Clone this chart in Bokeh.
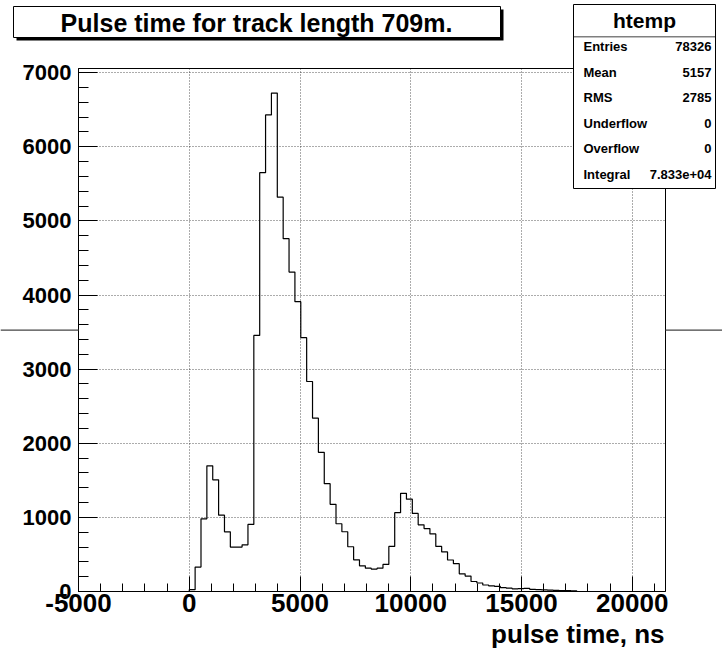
import numpy as np
from bokeh.plotting import figure
from bokeh.models import (Range1d, SingleIntervalTicker, BoxAnnotation, Label,
                          NumeralTickFormatter)
from bokeh.embed import file_html
from bokeh.resources import INLINE

# ---------------- data ----------------
title_text = "Pulse time for track length 709m."
x_title = "pulse time, ns"
hist_name = "htemp"
x_axis_min = -5000
x_axis_max = 21500
y_axis_max = 7056
bin_start = 0.0
bin_width = 265.0
counts = [25, 330, 980, 1695, 1507, 1030, 805, 600, 600, 630,
          905, 3455, 5650, 6430, 6725, 5320, 4760, 4310, 3910, 3425,
          2833, 2338, 1878, 1455, 1176, 914, 806, 604, 428, 347,
          315, 302, 315, 365, 608, 1063, 1324, 1246, 1054, 900,
          849, 777, 608, 534, 425, 376, 239, 208, 135, 115,
          88, 76, 68, 52, 45, 36, 40, 42, 30, 26,
          22, 18, 15, 13, 12, 10]
stats_names = ["Entries", "Mean", "RMS", "Underflow", "Overflow", "Integral"]
stats_values = ["78326", "5157", "2785", "0", "0", "7.833e+04"]

# ---------------- layout (pixels) ----------------
W, H = 722, 648
FL, FR, FT, FB = 78, 665, 68, 591   # plot box edges on the canvas

sx = (x_axis_max - x_axis_min) / (FR - FL)
sy = y_axis_max / (FB - FT)
xr = Range1d(x_axis_min - FL * sx, x_axis_max + (W - FR) * sx)
yr = Range1d(0 - (H - FB) * sy, y_axis_max + FT * sy)

p = figure(width=W, height=H, x_range=xr, y_range=yr,
           output_backend="svg", toolbar_location=None,
           min_border=0)
p.background_fill_color = "white"
p.border_fill_color = "white"
p.outline_line_color = None

xa, ya = p.xaxis[0], p.yaxis[0]
xa.ticker = SingleIntervalTicker(interval=5000, num_minor_ticks=5)
ya.ticker = SingleIntervalTicker(interval=1000, num_minor_ticks=5)
xa.fixed_location = 0
ya.fixed_location = x_axis_min
xa.bounds = (x_axis_min, x_axis_max)
ya.bounds = (0, y_axis_max)
for ax in (xa, ya):
    ax.formatter = NumeralTickFormatter(format="0")
    ax.axis_line_color = "black"
    ax.major_tick_line_color = "black"
    ax.minor_tick_line_color = "black"
    ax.major_tick_out = 0
    ax.minor_tick_out = 0
    ax.major_label_text_color = "black"
    ax.major_label_text_font = "Liberation Sans"
    ax.major_label_text_font_style = "bold"
xa.major_tick_in = 15
xa.minor_tick_in = 8
ya.major_tick_in = 19
ya.minor_tick_in = 10
xa.major_label_text_font_size = "26px"
xa.major_label_standoff = 2
ya.major_label_text_font_size = "22px"
ya.major_label_standoff = 7

p.xgrid.ticker = SingleIntervalTicker(interval=5000)
p.ygrid.ticker = SingleIntervalTicker(interval=1000)
p.xgrid.bounds = (x_axis_min, x_axis_max)
p.xgrid.cross_bounds = (0, y_axis_max)
p.ygrid.bounds = (0, y_axis_max)
p.ygrid.cross_bounds = (x_axis_min, x_axis_max)
for g in (p.xgrid, p.ygrid):
    g.grid_line_color = "black"
    g.grid_line_dash = "1 2"
    g.grid_line_alpha = 0.65
    g.grid_line_width = 1

# histogram outline
edges = bin_start + bin_width * np.arange(len(counts) + 1)
xs = np.repeat(edges, 2)
ys = np.concatenate([[0], np.repeat(np.array(counts, dtype=float), 2), [0]])
p.line(xs, ys, line_color="black", line_width=1.2)

# frame box
p.add_layout(BoxAnnotation(left=x_axis_min, right=x_axis_max, bottom=0, top=y_axis_max,
                           fill_alpha=0, line_color="black", line_width=1, line_alpha=1))


def cbox(l, r, t, b, fill, line):
    return BoxAnnotation(left=l, right=r, top=t, bottom=b,
                         left_units="canvas", right_units="canvas",
                         top_units="canvas", bottom_units="canvas",
                         fill_color=fill, fill_alpha=1,
                         line_color=line, line_width=1, line_alpha=1)


# stray horizontal line outside the frame
p.add_layout(cbox(0, FL, 329, 330.2, "#444444", None))
p.add_layout(cbox(FR, W, 329, 330.2, "#444444", None))

# title box with shadow
p.add_layout(cbox(16, 503, 9, 40, "black", None))
p.add_layout(cbox(13, 500, 6, 37, "white", "black"))
p.add_layout(Label(x=256, y=22, x_units="canvas", y_units="canvas",
                   text=title_text, text_align="center", text_baseline="middle",
                   text_font="Liberation Sans", text_font_style="bold",
                   text_font_size="25px", text_color="black"))

# stats box
p.add_layout(cbox(573, 715, 4, 188, "white", "black"))
p.add_layout(Label(x=644, y=20, x_units="canvas", y_units="canvas",
                   text=hist_name, text_align="center", text_baseline="middle",
                   text_font="Liberation Sans", text_font_style="bold",
                   text_font_size="21px", text_color="black"))
p.add_layout(cbox(573, 715, 36, 36.8, "black", None))
row_y = [46, 72, 97, 123, 148, 174]
for name, val, yy in zip(stats_names, stats_values, row_y):
    p.add_layout(Label(x=583, y=yy, x_units="canvas", y_units="canvas",
                       text=name, text_align="left", text_baseline="middle",
                       text_font="Liberation Sans", text_font_style="bold",
                       text_font_size="13px", text_color="black"))
    p.add_layout(Label(x=711, y=yy, x_units="canvas", y_units="canvas",
                       text=val, text_align="right", text_baseline="middle",
                       text_font="Liberation Sans", text_font_style="bold",
                       text_font_size="13px", text_color="black"))

# x axis title, right aligned
p.add_layout(Label(x=FR - 1, y=633, x_units="canvas", y_units="canvas",
                   text=x_title, text_align="right", text_baseline="alphabetic",
                   text_font="Liberation Sans", text_font_style="bold",
                   text_font_size="26px", text_color="black"))

open("out.html", "w").write(file_html(p, INLINE))
